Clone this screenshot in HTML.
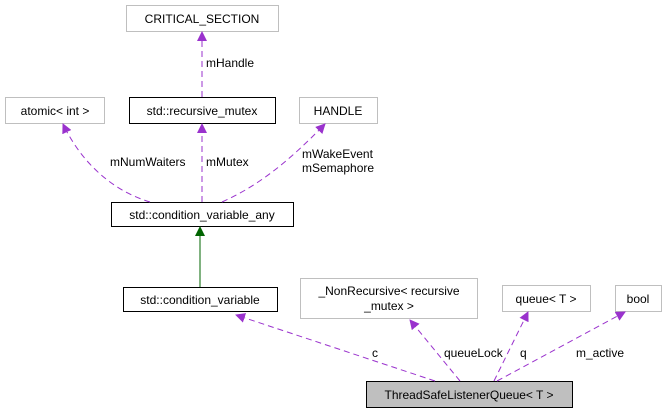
<html><body style="margin:0;background:#fff">
<svg width="667" height="416" xmlns="http://www.w3.org/2000/svg" style="font-family:'Liberation Sans',sans-serif;font-size:12px">
<defs><marker id="p" markerWidth="10" markerHeight="10" refX="9" refY="5" orient="auto" markerUnits="userSpaceOnUse"><path d="M0,0 L10,5 L0,10 z" fill="#9a32cd"/></marker>
<marker id="g" markerWidth="10" markerHeight="10" refX="9" refY="5" orient="auto" markerUnits="userSpaceOnUse"><path d="M0,0 L10,5 L0,10 z" fill="#006400"/></marker></defs>
<g fill="#fff" stroke="#bfbfbf">
<rect x="126.5" y="5.5" width="152" height="26"/>
<rect x="5.5" y="97.5" width="99" height="26"/>
<rect x="299.5" y="97.5" width="78" height="26"/>
<rect x="300.5" y="278.5" width="177" height="40"/>
<rect x="502.5" y="285.5" width="88" height="26"/>
<rect x="615.5" y="285.5" width="46" height="26"/>
</g>
<g fill="#fff" stroke="#000">
<rect x="129.5" y="97.5" width="146" height="26"/>
<rect x="111.5" y="202.5" width="182" height="24"/>
<rect x="123.5" y="287.5" width="154" height="24"/>
<rect x="366.5" y="381.5" width="206" height="26" fill="#bfbfbf"/>
</g>
<g fill="none" stroke="#9a32cd" stroke-dasharray="6,4" marker-end="url(#p)">
<path d="M202,97 L202,32"/>
<path d="M202,202 L202,124"/>
<path d="M150,202 C110,190 80,160 63,124"/>
<path d="M222,202 C260,185 290,160 325,124"/>
<path d="M435,381 L236,315"/>
<path d="M460,381 L410,320"/>
<path d="M494,381 L528,312"/>
<path d="M497,381 L625,312"/>
</g>
<path d="M200,287 L200,227" stroke="#006400" fill="none" marker-end="url(#g)"/>
<g text-anchor="middle">
<text x="202" y="23">CRITICAL_SECTION</text>
<text x="55" y="115">atomic&lt; int &gt;</text>
<text x="202" y="115">std::recursive_mutex</text>
<text x="338" y="115">HANDLE</text>
<text x="202" y="219">std::condition_variable_any</text>
<text x="200" y="304">std::condition_variable</text>
<text x="389" y="295">_NonRecursive&lt; recursive</text>
<text x="389" y="310">_mutex &gt;</text>
<text x="546" y="303">queue&lt; T &gt;</text>
<text x="638" y="303">bool</text>
<text x="469" y="399">ThreadSafeListenerQueue&lt; T &gt;</text>
</g>
<text x="206" y="67">mHandle</text>
<text x="110" y="166">mNumWaiters</text>
<text x="206" y="166">mMutex</text>
<text x="302" y="158">mWakeEvent</text>
<text x="302" y="172">mSemaphore</text>
<text x="372" y="357">c</text>
<text x="444" y="357">queueLock</text>
<text x="520" y="357">q</text>
<text x="576" y="357">m_active</text>
</svg>
</body></html>
